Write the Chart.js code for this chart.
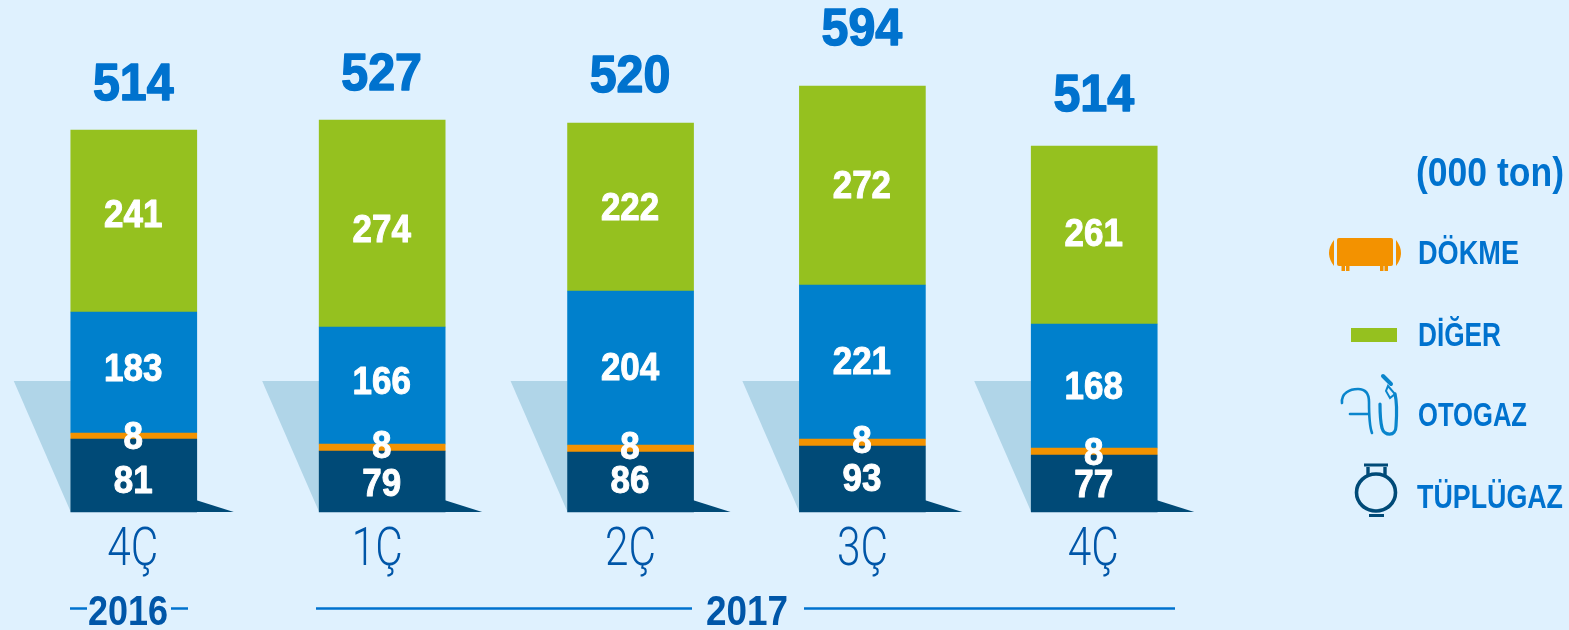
<!DOCTYPE html>
<html><head><meta charset="utf-8">
<script src="https://cdn.jsdelivr.net/npm/chart.js@4"></script>
<style>
html,body{margin:0;padding:0;background:#dff1fe;width:1569px;height:630px;overflow:hidden}
#wrap{position:relative;width:1569px;height:630px}
canvas{position:absolute;left:0;top:0}
.t{position:absolute;font-family:"Liberation Sans",sans-serif;font-weight:700;color:#0072ce;white-space:nowrap;line-height:1;transform-origin:0 50%}
svg{position:absolute;overflow:visible}
</style></head><body>
<div id="wrap">
<canvas id="c" width="1569" height="630"></canvas>
<div class="t" data-w="148" style="left:1416px;top:152px;font-size:41px">(000 ton)</div>
<div class="t" data-w="101" style="left:1418px;top:235px;font-size:34px">DÖKME</div>
<div class="t" data-w="83" style="left:1418px;top:317px;font-size:34px">DİĞER</div>
<div class="t" data-w="109" style="left:1418px;top:397px;font-size:34px">OTOGAZ</div>
<div class="t" data-w="146" style="left:1417px;top:479px;font-size:34px">TÜPLÜGAZ</div>
<div class="t" data-w="80" style="left:88px;top:590px;font-size:42px;color:#0056a8">2016</div>
<div class="t" data-w="82" style="left:706px;top:590px;font-size:42px;color:#0056a8">2017</div>
<svg style="left:0;top:0" width="1569" height="630">
 <g stroke="#0072ce" stroke-width="2.5"><line x1="70" y1="608.5" x2="87" y2="608.5"/><line x1="171" y1="608.5" x2="188" y2="608.5"/><line x1="316" y1="608.5" x2="692" y2="608.5"/><line x1="804" y1="608.5" x2="1175" y2="608.5"/></g>
 <rect x="1337" y="238" width="56" height="28" rx="2" fill="#f39200"/>
 <path d="M1334 240 Q1324 253 1334 266Z M1396 240 Q1406 253 1396 266Z" fill="#f39200"/>
 <g fill="#f39200"><rect x="1341.5" y="266" width="3.5" height="5"/><rect x="1346" y="266" width="3.5" height="5"/><rect x="1380" y="266" width="3.5" height="5"/><rect x="1384.5" y="266" width="3.5" height="5"/></g>
 <rect x="1351" y="328" width="46" height="14" fill="#95c11f"/>
 <g fill="none" stroke="#0a85cc" stroke-width="2.6" stroke-linecap="round">
  <path d="M1342 403 C1341 393 1350 389 1358 389 C1366 389 1369 394 1369 402 C1369 414 1369 425 1372 433"/>
  <path d="M1350 414 H1368"/>
  <path d="M1380 404 C1380 416 1381 424 1382 428 C1384 436 1396 437 1396 426 C1397 412 1397 402 1395 394" stroke-width="3.2"/>
  <path d="M1383 376 L1391 384" stroke-width="4"/>
  <path d="M1388 386 L1395 394 L1390 398 L1386 391Z" stroke-width="2"/>
 </g>
 <g fill="none" stroke="#004a77">
  <ellipse cx="1376" cy="492.5" rx="19.5" ry="18.5" stroke-width="3.6"/>
  <path d="M1364 465 H1388 M1369 515.5 H1384" stroke-width="3"/>
  <path d="M1368 467 V475 M1385 467 V475" stroke-width="3.4"/>
 </g>
</svg>
</div>
<script>
const quarters=['4Ç','1Ç','2Ç','3Ç','4Ç'];
// printed figures
const tupluLabels=[81,79,86,93,77];
const dokmeLabels=[8,8,8,8,8];
const otogazLabels=[183,166,204,221,168];
const digerLabels=[241,274,222,272,261];
const totals=[514,527,520,594,514];
// segment lengths as drawn in the picture (the infographic is not to scale with its printed figures)
const tupluDrawn=[73,61,60,66,57];
const dokmeDrawn=[6,7,7,7,7];
const otogazDrawn=[121,117,154,154,124];
const digerDrawn=[182,207,168,199,178];
// category slots: the picture's quarters are unevenly spaced
const quarterSlots=[0,15,30,44,58];
const slotCount=59;
// text placement nudges
const tupluNudge=[4,1,-2,-1,0];
const dokmeNudge=[0,-3,-3,-3,0];
const otogazNudge=[-5,-5,-1,-1,0];
const digerNudge=[-7,5,0,-1,-2];
const totalGap=[47,47,48,58,52];
const tickNudge=[-1,-5,0,0,-1];

const slotLabels=Array.from({length:slotCount},()=>'');
quarterSlots.forEach((s,i)=>slotLabels[s]=quarters[i]);
function spread(a){const o=Array(slotCount).fill(null);quarterSlots.forEach((s,i)=>o[s]=a[i]);return o;}
const FONT='"Liberation Sans",sans-serif';
const series=[
 {label:'TÜPLÜGAZ',drawn:tupluDrawn,labels:tupluLabels,nudge:tupluNudge,color:'#004a77'},
 {label:'DÖKME',drawn:dokmeDrawn,labels:dokmeLabels,nudge:dokmeNudge,color:'#f39200'},
 {label:'OTOGAZ',drawn:otogazDrawn,labels:otogazLabels,nudge:otogazNudge,color:'#0080cc'},
 {label:'DİĞER',drawn:digerDrawn,labels:digerLabels,nudge:digerNudge,color:'#95c11f'}
];
function squeezed(c,text,x,y,sx,stroke){
 c.save();c.translate(x,y);c.scale(sx,1);
 if(stroke){c.lineWidth=stroke;c.lineJoin='round';c.strokeStyle=c.fillStyle;c.strokeText(text,0,0);}
 c.fillText(text,0,0);c.restore();
}
const decor={id:'decor',
 beforeDatasetsDraw(ch){
  const c=ch.ctx,y0=ch.scales.y.getPixelForValue(0);
  const m=ch.getDatasetMeta(0);
  quarterSlots.forEach(s=>{
   const b=m.data[s];const l=b.x-63,r=b.x+63;
   c.fillStyle='#b0d5e8';c.beginPath();c.moveTo(l-57,381);c.lineTo(l,381);c.lineTo(l,y0);c.closePath();c.fill();
   c.fillStyle='#004a77';c.beginPath();c.moveTo(r-1,y0-12);c.lineTo(r+37,y0);c.lineTo(r-1,y0);c.closePath();c.fill();
  });
 },
 afterDatasetsDraw(ch){
  const c=ch.ctx;c.save();c.textAlign='center';c.textBaseline='middle';
  series.forEach((sr,di)=>{
   const m=ch.getDatasetMeta(di);
   quarterSlots.forEach((s,i)=>{
    const b=m.data[s];
    c.fillStyle='#fff';c.font='700 38px '+FONT;
    squeezed(c,String(sr.labels[i]),b.x-0.5,(b.y+b.base)/2+3+sr.nudge[i],0.92,1);
   });
  });
  const top=ch.getDatasetMeta(3);
  quarterSlots.forEach((s,i)=>{
   const b=top.data[s];
   c.fillStyle='#0072ce';c.font='700 52px '+FONT;
   squeezed(c,String(totals[i]),b.x-0.5,b.y-totalGap[i]+3,0.93,1.5);
  });
  const xs=ch.scales.x;
  quarterSlots.forEach((s,i)=>{
   const t=xs.getLabelForValue(s);
   c.fillStyle='#0056a8';c.font='300 53px Roboto,'+FONT;
   const sx=51/c.measureText(t).width;
   squeezed(c,t,xs.getPixelForValue(s)+tickNudge[i],552,sx,0);
  });
  c.restore();
 }};
new Chart(document.getElementById('c'),{
 type:'bar',
 data:{labels:slotLabels,datasets:series.map(s=>({label:s.label,data:spread(s.drawn),backgroundColor:s.color,borderWidth:0,barThickness:126,clip:false}))},
 options:{responsive:false,animation:false,
  layout:{padding:{left:125.5,right:466.5,top:0,bottom:110}},
  plugins:{legend:{display:false},tooltip:{enabled:false}},
  scales:{
   x:{stacked:true,grid:{display:false},border:{display:false},ticks:{display:false,autoSkip:false,maxRotation:0,minRotation:0}},
   y:{stacked:true,display:false,min:0,max:512}
  }
 },
 plugins:[decor]
});
document.querySelectorAll('.t').forEach(e=>{
 e.style.transform='scaleX('+(+e.dataset.w/e.getBoundingClientRect().width)+')';
});
</script>
</body></html>
